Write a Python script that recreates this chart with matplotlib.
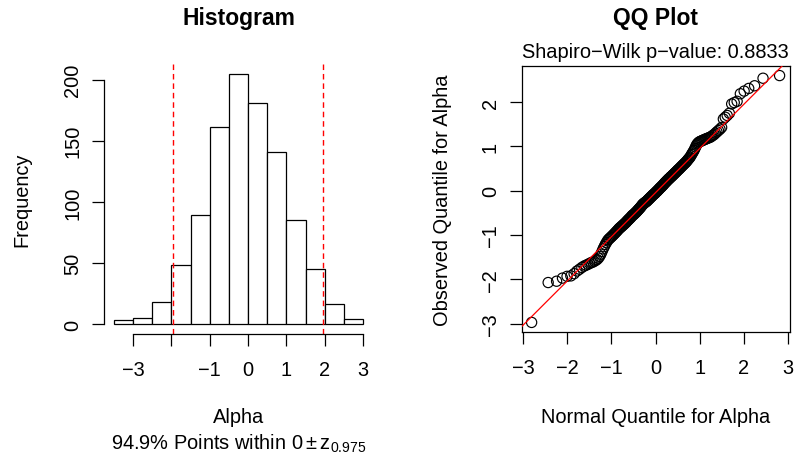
import matplotlib
matplotlib.use("Agg")
import matplotlib.pyplot as plt
import numpy as np
from statistics import NormalDist

plt.rcParams["font.family"] = ["Liberation Sans", "DejaVu Sans"]
plt.rcParams["mathtext.fontset"] = "custom"
plt.rcParams["mathtext.rm"] = "Liberation Sans"
plt.rcParams["mathtext.it"] = "Liberation Sans"

# histogram of Alpha (bin edges and counts)
bin_edges = [-3.5, -3.0, -2.5, -2.0, -1.5, -1.0, -0.5, 0.0, 0.5, 1.0, 1.5, 2.0, 2.5, 3.0]
counts = [3, 5, 18, 48, 89, 161, 205, 181, 141, 85, 45, 16, 4]
hist_xticks = [-3, -2, -1, 0, 1, 2, 3]
hist_xticklabels = ["\u22123", "", "\u22121", "0", "1", "2", "3"]
hist_yticks = [0, 50, 100, 150, 200]
pct_within = 94.9

# sorted observed Alpha values shown in the QQ plot (n = 200)
observed = [
    -2.97, -2.07, -2.04, -1.97, -1.93, -1.92, -1.87, -1.81, -1.77, -1.73,
    -1.70, -1.68, -1.66, -1.64, -1.62, -1.61, -1.59, -1.57, -1.55, -1.52,
    -1.48, -1.43, -1.37, -1.31, -1.26, -1.21, -1.17, -1.13, -1.10, -1.08,
    -1.06, -1.04, -1.02, -1.00, -0.98, -0.96, -0.94, -0.92, -0.90, -0.88,
    -0.86, -0.84, -0.83, -0.81, -0.80, -0.78, -0.77, -0.75, -0.74, -0.72,
    -0.71, -0.69, -0.67, -0.66, -0.64, -0.63, -0.61, -0.60, -0.58, -0.56,
    -0.55, -0.54, -0.53, -0.51, -0.50, -0.49, -0.47, -0.46, -0.44, -0.43,
    -0.41, -0.40, -0.38, -0.37, -0.35, -0.33, -0.32, -0.30, -0.29, -0.28,
    -0.27, -0.26, -0.25, -0.24, -0.23, -0.22, -0.20, -0.19, -0.18, -0.17,
    -0.15, -0.14, -0.13, -0.12, -0.10, -0.09, -0.08, -0.07, -0.06, -0.05,
    -0.03, -0.02, -0.01, 0.00, 0.02, 0.03, 0.04, 0.06, 0.07, 0.08,
    0.09, 0.11, 0.12, 0.13, 0.15, 0.16, 0.18, 0.19, 0.20, 0.22,
    0.23, 0.24, 0.26, 0.27, 0.28, 0.29, 0.31, 0.32, 0.33, 0.34,
    0.36, 0.37, 0.38, 0.40, 0.41, 0.42, 0.44, 0.45, 0.47, 0.48,
    0.49, 0.51, 0.52, 0.54, 0.55, 0.57, 0.58, 0.60, 0.61, 0.63,
    0.64, 0.66, 0.68, 0.70, 0.72, 0.74, 0.76, 0.79, 0.82, 0.85,
    0.88, 0.91, 0.95, 0.99, 1.03, 1.06, 1.08, 1.10, 1.11, 1.12,
    1.13, 1.14, 1.15, 1.16, 1.17, 1.18, 1.19, 1.20, 1.21, 1.23,
    1.25, 1.27, 1.30, 1.33, 1.36, 1.39, 1.43, 1.62, 1.66, 1.70,
    1.75, 1.96, 1.99, 2.02, 2.19, 2.25, 2.31, 2.37, 2.54, 2.60,
]
shapiro_p = 0.8833
qq_xticks = [-3, -2, -1, 0, 1, 2, 3]
qq_yticks = [-3, -2, -1, 0, 1, 2]

nd = NormalDist()
z975 = nd.inv_cdf(0.975)
n = len(observed)
theoretical = [nd.inv_cdf((i + 0.5) / n) for i in range(n)]

W, H = 795, 456
fig = plt.figure(figsize=(W / 100, H / 100), dpi=100)
FS = 14.4
TS = 16.5

def px_axes(x0, y0, x1, y1):
    return fig.add_axes([x0 / W, (H - y1) / H, (x1 - x0) / W, (y1 - y0) / H])

# ---------------- histogram ----------------
ax1 = px_axes(104, 64.6, 373, 335)
widths = np.diff(bin_edges)
ax1.bar(bin_edges[:-1], counts, width=widths, align="edge",
        color="white", edgecolor="black", linewidth=0.9)
ax1.use_sticky_edges = False
ax1.margins(x=0.04, y=0.04)
for v in (-z975, z975):
    ax1.axvline(v, color="#ff0000", linewidth=1.0, linestyle=(0, (4, 2.8)))
for s in ("top", "right"):
    ax1.spines[s].set_visible(False)
ax1.spines["left"].set_bounds(0, 200)
ax1.spines["bottom"].set_bounds(-3, 3)
ax1.spines["left"].set_linewidth(0.9)
ax1.spines["bottom"].set_linewidth(0.9)
ax1.set_xticks(hist_xticks)
ax1.set_xticklabels(hist_xticklabels)
ax1.set_yticks(hist_yticks)
ax1.set_title("Histogram", fontsize=TS, fontweight="bold", pad=28.5)
ax1.text(-0.305, 0.5, "Frequency", rotation=90, ha="center", va="center",
         fontsize=FS, transform=ax1.transAxes)
ax1.text(0.5, (335 - 423) / 270.4, "Alpha", ha="center", va="baseline",
         fontsize=FS, transform=ax1.transAxes)
ax1.text(0.5, (335 - 450) / 270.4,
         f"{pct_within}% Points within $0\\pm\\mathrm{{z}}_{{0.975}}$",
         ha="center", va="baseline", fontsize=FS, transform=ax1.transAxes)

# ---------------- QQ plot ----------------
ax2 = px_axes(521.7, 66.7, 789.5, 333.3)
ax2.scatter(theoretical, observed, s=54, facecolors="none",
            edgecolors="black", linewidths=0.85, zorder=3)
ax2.margins(x=0.04, y=0.04)
q1, q3 = np.quantile(observed, [0.25, 0.75])
t1, t3 = nd.inv_cdf(0.25), nd.inv_cdf(0.75)
slope = (q3 - q1) / (t3 - t1)
intercept = q1 - slope * t1
ax2.axline((0, intercept), slope=slope, color="#ff0000", linewidth=0.9, zorder=4)
ax2.set_xticks(qq_xticks)
ax2.set_yticks(qq_yticks)
for s in ax2.spines.values():
    s.set_linewidth(0.9)
ax2.set_title("QQ Plot", fontsize=TS, fontweight="bold", pad=30)
ax2.text(0.5, 1 + (66.7 - 58.3) / 266.6,
         f"Shapiro\u2212Wilk p\u2212value: {shapiro_p}",
         ha="center", va="baseline", fontsize=FS, transform=ax2.transAxes)
ax2.text(-0.296, 0.5, "Observed Quantile for Alpha", rotation=90,
         ha="center", va="center", fontsize=FS, transform=ax2.transAxes)
ax2.text(0.5, (333.3 - 423) / 266.6, "Normal Quantile for Alpha",
         ha="center", va="baseline", fontsize=FS, transform=ax2.transAxes)

for ax in (ax1, ax2):
    ax.tick_params(axis="both", length=8.3, width=0.9, labelsize=FS,
                   direction="out")
    ax.tick_params(axis="x", pad=10.5)
    ax.tick_params(axis="y", pad=7.5, labelrotation=90)
    for lab in ax.get_yticklabels():
        lab.set_verticalalignment("center")

fig.savefig("out.png", dpi=100, facecolor="white")
